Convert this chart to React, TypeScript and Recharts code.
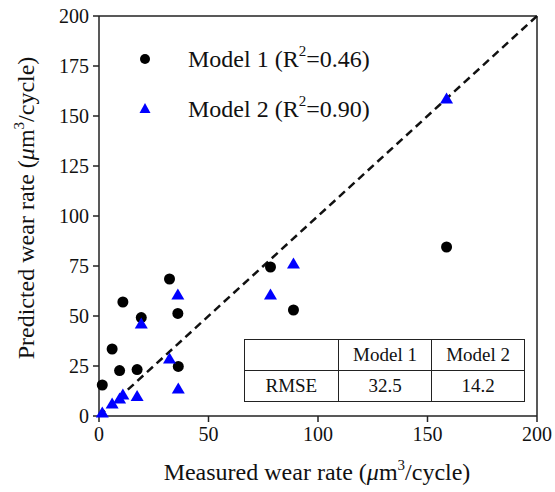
import React from "react";
import { ScatterChart, Scatter, XAxis, YAxis, ReferenceLine, Label, Legend } from "recharts";

// measured wear rate (um^3/cycle), shared by both models
const measured = [1.5, 6, 9.4, 10.9, 17.4, 19.3, 32.2, 36, 36.2, 78.3, 88.8, 158.7];
const model1Pred = [15.5, 33.5, 22.7, 57, 23.2, 49.2, 68.5, 51.3, 24.8, 74.5, 53, 84.5];
const model2Pred = [1.5, 6, 8.5, 10.5, 9.7, 46, 28.5, 60.5, 13.5, 60.5, 76, 158.5];

const xTicks = [0, 50, 100, 150, 200];
const yTicks = [0, 25, 50, 75, 100, 125, 150, 175, 200];
const identity = [{ x: 0, y: 0 }, { x: 200, y: 200 }];

const rmseHeaders = ["", "Model 1", "Model 2"];
const rmseRow = ["RMSE", "32.5", "14.2"];

const model1 = measured.map((x, i) => ({ x, y: model1Pred[i] }));
const model2 = measured.map((x, i) => ({ x, y: model2Pred[i] }));

const FONT = "Liberation Serif";
const AXIS = "#222";

const Dot = (p: any) => <circle cx={p.cx} cy={p.cy} r={5.5} fill="#000" />;
const Tri = (p: any) => (
  <path d={`M${p.cx},${p.cy - 6.5} L${p.cx + 6.5},${p.cy + 4.5} L${p.cx - 6.5},${p.cy + 4.5} Z`} fill="#0000ff" />
);

const XTick = (p: any) => (
  <text x={p.x} y={p.y + 17} textAnchor="middle" fontFamily={FONT} fontSize={20} fill="#111">
    {p.payload.value}
  </text>
);
const YTick = (p: any) => (
  <text x={p.x - 2} y={p.y + 7} textAnchor="end" fontFamily={FONT} fontSize={20} fill="#111">
    {p.payload.value}
  </text>
);

function LegendBox() {
  const rows = [
    { icon: <circle cx={10} cy={10} r={5} fill="#000" />, r2: "0.46", name: "Model 1" },
    { icon: <path d="M10,4 L15.5,14 L4.5,14 Z" fill="#0000ff" />, r2: "0.90", name: "Model 2" },
  ];
  return (
    <div style={{ fontFamily: FONT, fontSize: 24, color: "#111" }}>
      {rows.map((r) => (
        <div key={r.name} style={{ display: "flex", alignItems: "center", height: 50 }}>
          <svg width={20} height={20} style={{ marginRight: 33 }}>{r.icon}</svg>
          <span>
            {r.name} (R<sup style={{ fontSize: 15, verticalAlign: 11, lineHeight: 0 }}>2</sup>={r.r2})
          </span>
        </div>
      ))}
    </div>
  );
}

const cell: React.CSSProperties = {
  border: "1.5px solid #222",
  height: 30,
  padding: 0,
  textAlign: "center",
  fontSize: 19,
  fontFamily: FONT,
};

export default function App() {
  return (
    <div style={{ position: "absolute", left: 0, top: 0, width: 555, height: 492, background: "#fff", fontFamily: FONT }}>
      <ScatterChart width={555} height={492} margin={{ top: 16, right: 18, left: 0, bottom: 0 }} style={{ fontFamily: FONT }}>
        <XAxis
          type="number"
          dataKey="x"
          domain={[0, 200]}
          ticks={xTicks}
          height={76}
          stroke={AXIS}
          strokeWidth={1.5}
          tickSize={6}
          tick={<XTick />}
        >
          <Label
            content={() => (
              <text x={317} y={480} textAnchor="middle" fontFamily={FONT} fontSize={24} fill="#111">
                Measured wear rate (<tspan fontStyle="italic">μ</tspan>m
                <tspan dy={-10} fontSize={15}>3</tspan>
                <tspan dy={10}>/cycle)</tspan>
              </text>
            )}
          />
        </XAxis>
        <YAxis
          type="number"
          dataKey="y"
          domain={[0, 200]}
          ticks={yTicks}
          width={99}
          stroke={AXIS}
          strokeWidth={1.5}
          tickSize={6}
          tick={<YTick />}
        >
          <Label
            content={() => (
              <text
                x={34}
                y={208}
                transform="rotate(-90, 34, 208)"
                textAnchor="middle"
                fontFamily={FONT}
                fontSize={24}
                fill="#111"
              >
                Predicted wear rate (<tspan fontStyle="italic">μ</tspan>m
                <tspan dy={-10} fontSize={15}>3</tspan>
                <tspan dy={10}>/cycle)</tspan>
              </text>
            )}
          />
        </YAxis>
        <ReferenceLine y={200} stroke={AXIS} strokeWidth={1.5} />
        <ReferenceLine x={200} stroke={AXIS} strokeWidth={1.5} />
        <ReferenceLine segment={identity} stroke="#111" strokeWidth={2.5} strokeDasharray="8 5" />
        <Scatter name="Model 1" data={model1} shape={Dot} isAnimationActive={false} />
        <Scatter name="Model 2" data={model2} shape={Tri} isAnimationActive={false} />
        <Legend
          layout="vertical"
          align="center"
          verticalAlign="middle"
          content={() => <LegendBox />}
          wrapperStyle={{ left: 135, top: 34, width: "auto", height: "auto" }}
        />
      </ScatterChart>
      <table
        style={{
          position: "absolute",
          left: 244,
          top: 339,
          width: 281,
          borderCollapse: "collapse",
          background: "#fff",
          fontFamily: FONT,
          color: "#111",
        }}
      >
        <tbody>
          <tr>
            {rmseHeaders.map((h, i) => (
              <td key={i} style={{ ...cell, width: i === 2 ? 93 : 94 }}>{h}</td>
            ))}
          </tr>
          <tr>
            {rmseRow.map((v, i) => (
              <td key={i} style={cell}>{v}</td>
            ))}
          </tr>
        </tbody>
      </table>
    </div>
  );
}
